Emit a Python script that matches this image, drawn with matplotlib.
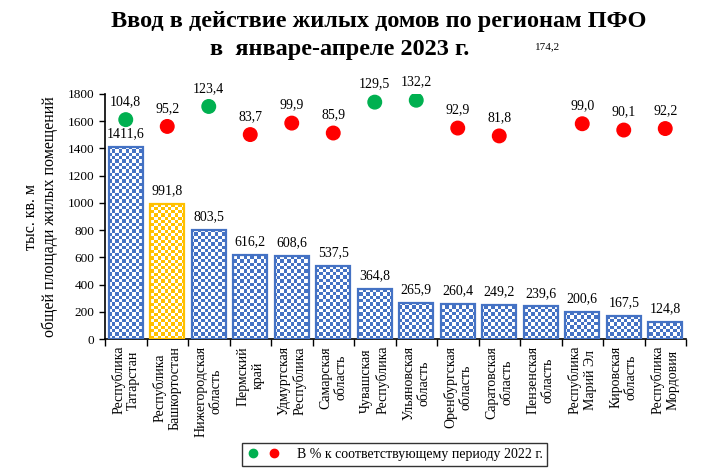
"""Ввод в действие жилых домов по регионам ПФО, январь-апрель 2023."""
import matplotlib
matplotlib.use("Agg")
import matplotlib.pyplot as plt
import matplotlib.colors as mcolors
from matplotlib.lines import Line2D
from matplotlib.legend_handler import HandlerTuple
import numpy as np

regions = [
    "Республика\nТатарстан", "Республика\nБашкортостан", "Нижегородская\nобласть",
    "Пермский\nкрай", "Удмуртская\nРеспублика", "Самарская\nобласть",
    "Чувашская\nРеспублика", "Ульяновская\nобласть", "Оренбургская\nобласть",
    "Саратовская\nобласть", "Пензенская\nобласть", "Республика\nМарий Эл",
    "Кировская\nобласть", "Республика\nМордовия",
]
area = [1411.6, 991.8, 803.5, 616.2, 608.6, 537.5, 364.8, 265.9, 260.4,
        249.2, 239.6, 200.6, 167.5, 124.8]
pct_2022 = [104.8, 95.2, 123.4, 83.7, 99.9, 85.9, 129.5, 132.2, 92.9,
            81.8, 174.2, 99.0, 90.1, 92.2]
highlight = 1  # Башкортостан

BLUE = "#4472C4"
YELLOW = "#FFC000"
GREEN = "#00B050"
RED = "#FF0000"
PCT_TOP = 141

plt.rcParams["font.family"] = ["Liberation Serif", "DejaVu Serif"]


def checker(rows, cols, color):
    img = np.ones((rows, cols, 3))
    mask = np.add.outer(np.arange(rows), np.arange(cols)) % 2 == 0
    img[mask] = mcolors.to_rgb(color)
    return img


def fmt(v):
    return f"{v:.1f}".replace(".", ",")


fig = plt.figure(figsize=(7.28, 4.68), dpi=100)
ax = fig.add_axes([105 / 728, 1 - 339 / 468, 581 / 728, 245 / 468])

x = np.arange(len(regions))
colors = [YELLOW if i == highlight else BLUE for i in x]
bars = ax.bar(x, area, width=0.82, facecolor="none", edgecolor=colors,
              linewidth=1.6, zorder=3)

# checkerboard fill, clipped to every bar
for bar, c in zip(bars, colors):
    im = ax.imshow(checker(74, 176, c), extent=[0, 1, 0, 1], transform=ax.transAxes,
                   origin="lower", interpolation="nearest", aspect="auto", zorder=2)
    im.set_clip_path(bar)

for xi, v in zip(x, area):
    ax.annotate(fmt(v), (xi, v), xytext=(0, 9.5), textcoords="offset points",
                ha="center", va="center", fontsize=10)

ax.set_xlim(-0.5, len(regions) - 0.5)
ax.set_ylim(0, 1800)
ax.set_yticks(np.arange(0, 1801, 200))
ax.tick_params(axis="y", labelsize=9.5, length=4, width=1, direction="out")
ax.set_xticks(x)
ax.set_xticklabels(regions, rotation=90, fontsize=10, ha="center", va="top",
                   multialignment="center")
ax.set_xticks(np.arange(-0.5, len(regions)), minor=True)
ax.tick_params(axis="x", which="major", length=0, pad=5)
ax.tick_params(axis="x", which="minor", length=5, width=1, direction="out")
for side in ("top", "right"):
    ax.spines[side].set_visible(False)
for side in ("left", "bottom"):
    ax.spines[side].set_linewidth(1.2)
ax.set_ylabel("тыс. кв. м\nобщей площади жилых помещений", fontsize=11.5, labelpad=7)

# percentage dots on a hidden secondary axis
ax2 = ax.twinx()
ax2.set_ylim(-205, PCT_TOP)
ax2.axis("off")
dot_colors = [GREEN if p > 100 else RED for p in pct_2022]
ax2.scatter(x, pct_2022, s=95, c=dot_colors, zorder=4)
for xi, p in zip(x, pct_2022):
    if p > PCT_TOP:  # dot falls outside the plot, only its label remains
        ax2.annotate(fmt(p), (xi, p), xytext=(5, 17), textcoords="offset points",
                     ha="center", va="center", fontsize=8, annotation_clip=False)
    else:
        ax2.annotate(fmt(p), (xi, p), xytext=(0, 13), textcoords="offset points",
                     ha="center", va="center", fontsize=10, annotation_clip=False)

handle = (Line2D([], [], ls="none", marker="o", ms=6, color=GREEN),
          Line2D([], [], ls="none", marker="o", ms=6, color=RED))
fig.legend([handle], ["В % к соответствующему периоду 2022 г."],
           handler_map={tuple: HandlerTuple(ndivide=None, pad=0.6)},
           loc="center", bbox_to_anchor=(394.5 / 728, 1 - 454.7 / 468),
           fontsize=10, frameon=True, fancybox=False, edgecolor="black",
           handlelength=2.4, handletextpad=1.2, borderpad=0.35)

fig.text(379 / 728, 1 - 22 / 468, "Ввод в действие жилых домов по регионам ПФО",
         ha="center", va="center", fontsize=17.5, fontweight="bold")
fig.text(340 / 728, 1 - 50 / 468, "в  январе-апреле 2023 г.",
         ha="center", va="center", fontsize=17.5, fontweight="bold")

fig.savefig("out.png", dpi=100)
